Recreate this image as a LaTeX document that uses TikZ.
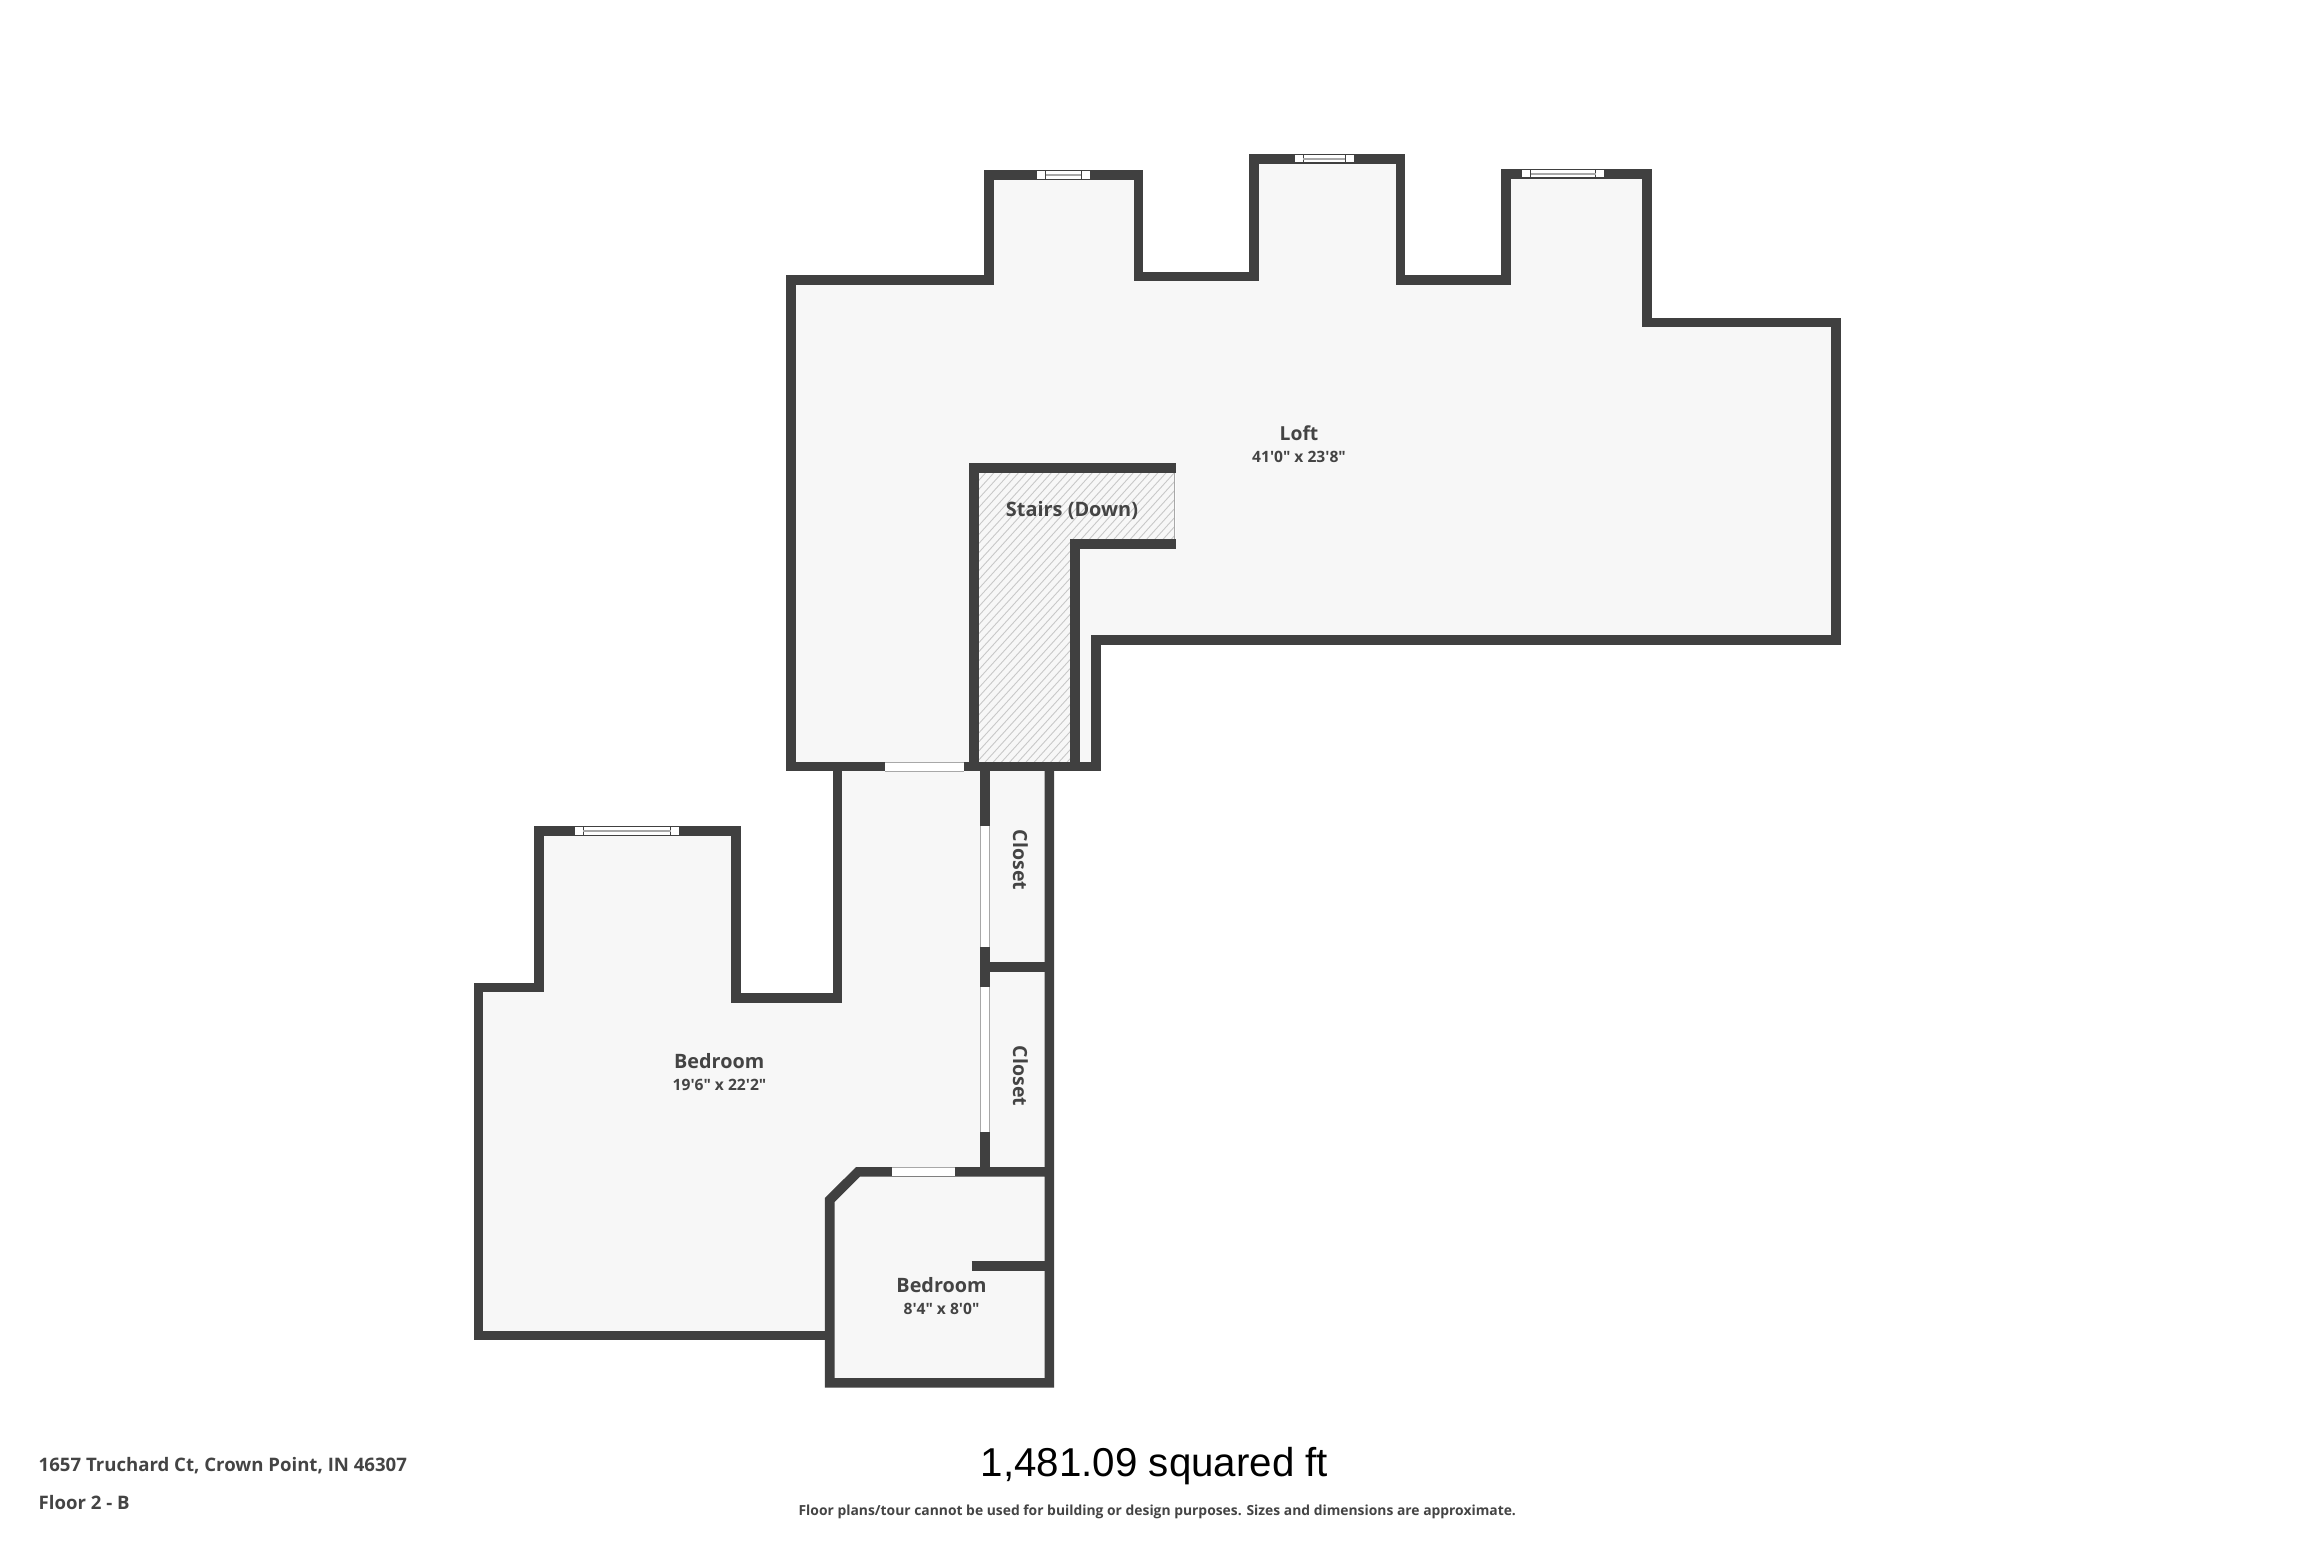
\documentclass[tikz,border=0pt]{standalone}
\usepackage{fontspec}
\setmainfont{Open Sans}[Ligatures=TeXOff]
\newfontfamily\helv{Liberation Sans}
\definecolor{wallc}{HTML}{404040}
\definecolor{roomc}{HTML}{F7F7F7}
\definecolor{hatchc}{HTML}{C8C8C8}
\definecolor{labelc}{HTML}{444444}
\definecolor{sillc}{HTML}{A8A8A8}
\tikzset{
  room/.style={fill=roomc,draw=none},
  wall/.style={draw=wallc,line width=9.6pt,miter limit=10,line join=miter,line cap=butt},
  opening/.style={fill=white,draw=none},
  sill/.style={draw=sillc,line width=1pt},
  winline/.style={draw=#1,line width=1pt},
  roomname/.style={text=labelc,font=\fontsize{#1}{#1}\selectfont\bfseries,inner sep=0pt,anchor=center},
  dims/.style={text=labelc,font=\fontsize{#1}{#1}\selectfont\bfseries,inner sep=0pt,anchor=center},
  foot/.style={text=labelc,font=\fontsize{#1}{#1}\selectfont\bfseries,inner sep=0pt},
}
% horizontal window: x1, x2, y1, y2, line colour
\newcommand{\hwin}[5]{%
  \fill[white] (#1,#3) rectangle (#2,#4);
  \draw[winline=#5] (#1,#3+0.5) -- (#2,#3+0.5) (#1,#4-0.5) -- (#2,#4-0.5);
  \draw[winline=#5] (#1+8.5,#3) -- (#1+8.5,#4) (#2-8.5,#3) -- (#2-8.5,#4);
  \draw[draw=sillc,line width=2pt] (#1+8.5,{(#3+#4)/2}) -- (#2-8.5,{(#3+#4)/2});
}
\begin{document}
\begin{tikzpicture}[x=1pt,y=-1pt]
\useasboundingbox (0,0) rectangle (2313,1542);
\fill[white] (0,0) rectangle (2313,1542);
% room floors
\fill[room] (791,280) -- (989,280) -- (989,175) -- (1138.5,175) -- (1138.5,276.5) -- (1254,276.5) -- (1254,158.7) -- (1400.4,158.7) -- (1400.4,279.7) -- (1506,279.7) -- (1506,173.8) -- (1646.7,173.8) -- (1646.7,322.5) -- (1835.7,322.5) -- (1835.7,639.7) -- (1095.7,639.7) -- (1095.7,766.5) -- (1074.7,766.5) -- (1074.7,544) -- (1175.7,544) -- (1175.7,467.8) -- (974,467.8) -- (974,766.5) -- (791,766.5) -- cycle;
\fill[room] (478.5,987.5) -- (538.7,987.5) -- (538.7,830.8) -- (735.7,830.8) -- (735.7,997.7) -- (837.5,997.7) -- (837.5,766.5) -- (985,766.5) -- (985,1171.8) -- (858,1171.8) -- (829.7,1200) -- (829.7,1335.5) -- (478.5,1335.5) -- cycle;
\fill[room] (985,771) rectangle (1049.4,1171.8);
\fill[room] (858,1171.8) -- (1049.4,1171.8) -- (1049.4,1382.8) -- (829.7,1382.8) -- (829.7,1200) -- cycle;
% stairs hatch
\begin{scope}
\clip (974,467.8) -- (1174.5,467.8) -- (1174.5,544) -- (1074.7,544) -- (1074.7,766.5) -- (974,766.5) -- cycle;
\fill[room] (970,460) rectangle (1180,770);
\foreach \k in {0,...,64} {
  \draw[hatchc,line width=0.9pt] ({970+\k*8.2},472) -- ({970+\k*8.2-320},{472+320*1.1});
}
\end{scope}
\draw[sillc,line width=1pt] (1174.5,472) -- (1174.5,540);
% walls
\draw[wall] (791,280) -- (989,280) -- (989,175) -- (1138.5,175) -- (1138.5,276.5) -- (1254,276.5) -- (1254,158.7) -- (1400.4,158.7) -- (1400.4,279.7) -- (1506,279.7) -- (1506,173.8) -- (1646.7,173.8) -- (1646.7,322.5) -- (1835.7,322.5) -- (1835.7,639.7) -- (1095.7,639.7) -- (1095.7,771);
\draw[wall] (791,275.2) -- (791,771);
\draw[wall] (786.2,766.5) -- (1100.5,766.5);
\draw[wall] (1175.7,467.8) -- (974,467.8) -- (974,771);
\draw[wall] (1175.7,544) -- (1074.7,544) -- (1074.7,771);
\draw[wall] (837.5,771) -- (837.5,997.7) -- (735.7,997.7) -- (735.7,830.8) -- (538.7,830.8) -- (538.7,987.5) -- (478.5,987.5) -- (478.5,1335.5) -- (834,1335.5);
\draw[wall] (985,771) -- (985,1176);
\draw[wall] (1049.4,766.5) -- (1049.4,1382.8) -- (829.7,1382.8) -- (829.7,1200) -- (858,1171.8) -- (1049.4,1171.8);
\draw[wall] (985,967) -- (1049.4,967);
\draw[wall] (971.7,1265.8) -- (1049.4,1265.8);
% doorways
\fill[opening] (885,762) rectangle (963.7,771);
\draw[sill] (885,762) -- (963.7,762) (885,771) -- (963.7,771);
\fill[opening] (980.3,826.3) rectangle (989.7,947.3);
\draw[sill] (980.3,826.3) -- (980.3,947.3) (989.7,826.3) -- (989.7,947.3);
\fill[opening] (980.3,987) rectangle (989.7,1131.7);
\draw[sill] (980.3,987) -- (980.3,1131.7) (989.7,987) -- (989.7,1131.7);
\fill[opening] (892.3,1167.3) rectangle (954.7,1176.3);
\draw[sill] (892.3,1167.3) -- (954.7,1167.3);
% windows
\hwin{1037.3}{1089.7}{170.3}{179.5}{wallc}
\hwin{1294.7}{1353.5}{154}{163.4}{wallc}
\hwin{1522.4}{1604}{169.3}{178.3}{wallc}
\hwin{574.7}{679}{826}{835.5}{wallc}
% labels
\node[roomname=19.3] (loft) at (1299,433) {Loft};
\node[dims=15.6] (loftdim) at (1299,456.5) {41'0" x 23'8"};
\node[roomname=19.9] (stairs) at (1072,510.5) {Stairs (Down)};
\node[roomname=19.5,rotate=-90] (closetA) at (1020.5,860) {Closet};
\node[roomname=19.5,rotate=-90] (closetB) at (1020.5,1076) {Closet};
\node[roomname=19.8] (bedroomA) at (719.2,1061.5) {Bedroom};
\node[dims=15.6] (bedroomAdim) at (719.5,1085) {19'6" x 22'2"};
\node[roomname=19.8] (bedroomB) at (941.5,1285) {Bedroom};
\node[dims=15.6] (bedroomBdim) at (941.5,1308.5) {8'4" x 8'0"};
\node[foot=18.6,anchor=west] (addr) at (38.5,1466) {1657 Truchard Ct, Crown Point, IN 46307};
\node[foot=18.6,anchor=west] (floor) at (38.5,1502.5) {Floor 2 - B};
\node[text=black,font=\helv\fontsize{40.3}{40.3}\selectfont,inner sep=0pt,anchor=center] (area) at (1154.5,1465.6) {1,481.09 squared ft};
\node[foot=13.87,anchor=center] (note) at (1157.3,1512) {Floor plans/tour cannot be used for building or design purposes. Sizes and dimensions are approximate.};
\end{tikzpicture}
\end{document}
